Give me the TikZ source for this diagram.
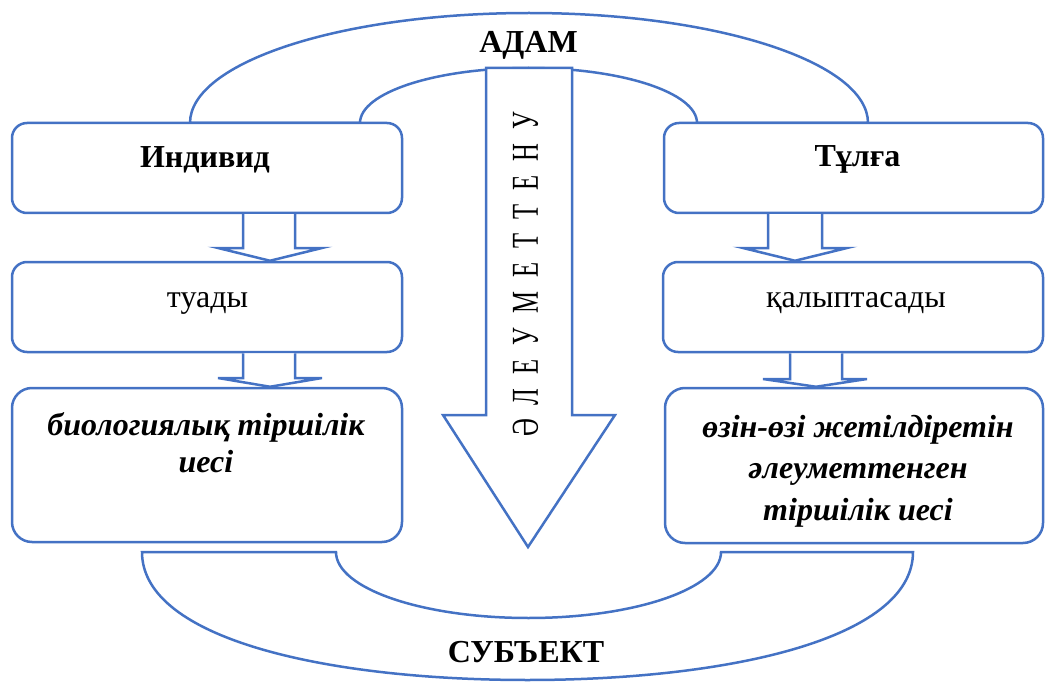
\documentclass[tikz,border=0pt]{standalone}
\usepackage{fontspec}
\setmainfont{Liberation Serif}
\usetikzlibrary{calc}
\definecolor{lblue}{HTML}{4472C4}
\begin{document}
\begin{tikzpicture}[x=1pt,y=-1pt,
  line/.style={draw=lblue,line width=2.5pt},
  box/.style={line, fill=white, rounded corners=15pt, minimum width=390pt, minimum height=90pt, inner sep=0pt},
  bigbox/.style={box, rounded corners=20pt, minimum height=154pt},
  barrow/.style={line, fill=white, line join=miter},
  lbl/.style={anchor=base, inner sep=0pt, font=\fontsize{32}{38}\selectfont},
  blbl/.style={lbl, font=\fontsize{32}{38}\selectfont\bfseries},
  ]
\useasboundingbox (0,0) rectangle (1045,682);
% top arc
\draw[line, fill=white] (190,123) arc[start angle=180, end angle=0, x radius=339pt, y radius=110pt]
  -- (697,123) arc[start angle=0, end angle=180, x radius=168.5pt, y radius=55pt] -- cycle;
% bottom arc
\draw[line, fill=white] (142,552) -- (336,552) arc[start angle=180, end angle=360, x radius=192.5pt, y radius=66pt]
  -- (913,552) .. controls (913,640) and (725,680) .. (527.5,680)
  .. controls (330,680) and (142,640) .. cycle;
% big arrow
\draw[line, fill=white, line join=miter] (486,68) -- (486,415) -- (443,415) -- (528,547) -- (615,415) -- (572,415) -- (572,68) -- cycle;
\node[rotate=90, inner sep=0pt] (soc) at (525.5,274.5)
  {\fontsize{38}{40}\selectfont\scalebox{0.65}[1]{\makebox[500pt][s]{Ә Л Е У М Е Т Т Е Н У}}};
% boxes
\node[box] (ind) at (207,168) {};
\node[box] (tua) at (207,307) {};
\node[bigbox] (bio) at (207,465) {};
\node[box, minimum width=379pt] (tul) at (853.5,168) {};
\node[box, minimum width=380pt] (kal) at (853,307) {};
\node[bigbox, minimum width=378pt, minimum height=155pt] (ozi) at (854,465.5) {};
% block arrows
\draw[barrow] (243,0 |- ind.south) -- (243,248) -- (218,248) -- (270,0 |- tua.north) -- (322,248) -- (295,248) -- (295,0 |- ind.south);
\draw[barrow] (243,0 |- tua.south) -- (243,378) -- (218,378) -- (270,0 |- bio.north) -- (322,378) -- (295,378) -- (295,0 |- tua.south);
\draw[barrow] (768,0 |- tul.south) -- (768,248) -- (743,248) -- (795,0 |- kal.north) -- (847,248) -- (822,248) -- (822,0 |- tul.south);
\draw[barrow] (790,0 |- kal.south) -- (790,379) -- (763,379) -- (816,0 |- ozi.north) -- (867,379) -- (842,379) -- (842,0 |- kal.south);
% labels
\node[blbl] (adam) at (528.5,53) {АДАМ};
\node[blbl] (subj) at (526,662) {СУБЪЕКТ};
\node[blbl] (tind) at (205,168) {Индивид};
\node[blbl] (ttul) at (857.5,167) {Тұлға};
\node[lbl] (ttua) at (207.5,307) {туады};
\node[lbl] (tkal) at (856,307) {қалыптасады};
\node[lbl, font=\fontsize{32}{37}\selectfont\bfseries\itshape] (tbio) at (206,435)
  {\begin{tabular}[t]{@{}c@{}}биологиялық тіршілік\\иесі\end{tabular}};
\node[lbl, font=\fontsize{32}{41.5}\selectfont\bfseries\itshape] (tozi) at (858,437)
  {\begin{tabular}[t]{@{}c@{}}өзін-өзі жетілдіретін\\әлеуметтенген\\тіршілік иесі\end{tabular}};
\end{tikzpicture}
\end{document}
